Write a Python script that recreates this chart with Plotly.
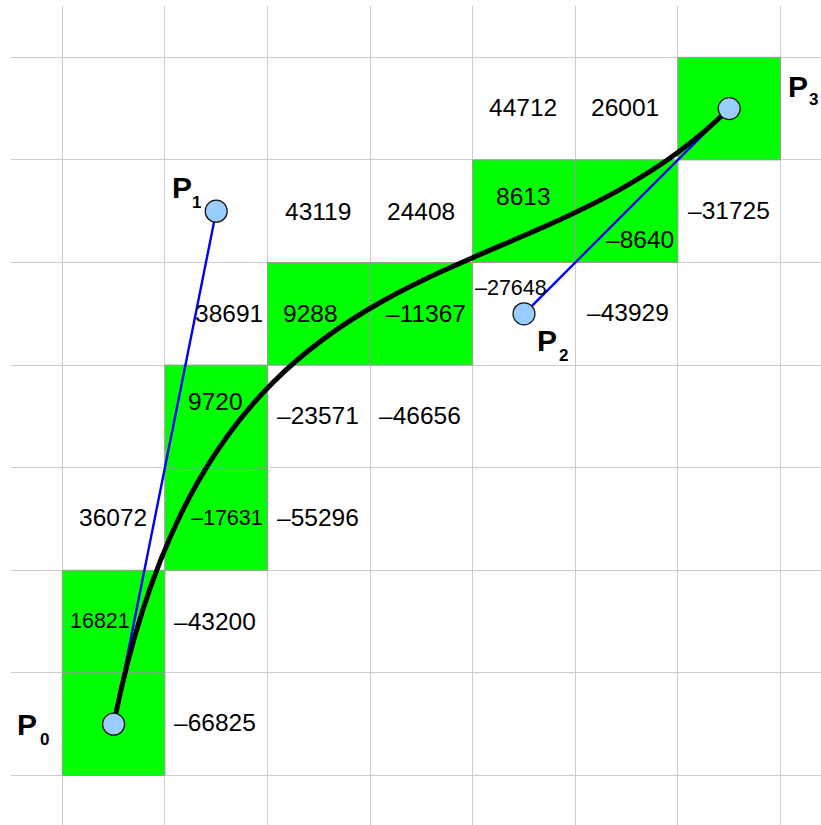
import plotly.graph_objects as go

# ---- data ----
# control points of the cubic Bezier curve (grid units)
point_names = ["0", "1", "2", "3"]
point_x = [0.5, 1.5, 4.5, 6.5]
point_y = [0.5, 5.5, 4.5, 6.5]

# shaded (green) cells: column, row
green_cols = [0, 0, 1, 1, 2, 3, 4, 5, 6]
green_rows = [0, 1, 2, 3, 4, 4, 5, 5, 6]

# cell values: column, row, value
value_cols = [0, 1, 1, 0, 1, 2, 1, 2, 3, 1, 2, 3, 4, 5, 2, 3, 4, 5, 6, 4, 5]
value_rows = [1, 1, 0, 2, 2, 2, 3, 3, 3, 4, 4, 4, 4, 4, 5, 5, 5, 5, 5, 6, 6]
values = [16821, -43200, -66825, 36072, -17631, -55296, 9720, -23571, -46656,
          38691, 9288, -11367, -27648, -43929, 43119, 24408, 8613, -8640,
          -31725, 44712, 26001]

# ---- styles (pixel nudges of labels inside their cells) ----
label_dx = [-13.5, -1, -1, -1, 10.4, -1, -1, -1, -1, 13, -8.7, 4.2, -13.4, 1.4,
            -0.7, -0.8, -0.9, 13, -0.6, -1.4, -1.5]
label_dy = [1, 1, 0, 0, 0, 0, -13, 0.5, 0.5, 1.4, 1.4, 1.4, -24.6, 0.4,
            1.7, 1.7, -13.3, 30, 1, 0.6, 0.6]
label_small = [True, False, False, False, True, False, False, False, False, False,
               False, False, True, False, False, False, False, False, False, False, False]
# P label offsets (px, down positive): main letter and subscript
p_dx = [-87, -34, 23.4, 68.7]
p_dy = [0, -24, 26.4, -22.4]
s_dx = [-69.3, -19.6, 39.3, 84.4]
s_dy = [15.3, -9, 42, -8.7]

FONT = "Liberation Sans, Arial, sans-serif"

fig = go.Figure()

shapes = []
for c, r in zip(green_cols, green_rows):
    shapes.append(dict(type="rect", xref="x", yref="y", x0=c, x1=c + 1, y0=r, y1=r + 1,
                       fillcolor="#00ff00", line=dict(color="#9a9a9a", width=1),
                       layer="between"))
# control polygon legs
shapes.append(dict(type="line", xref="x", yref="y", x0=point_x[0], y0=point_y[0],
                   x1=point_x[1], y1=point_y[1], line=dict(color="#0000ff", width=2.4),
                   layer="between"))
shapes.append(dict(type="line", xref="x", yref="y", x0=point_x[2], y0=point_y[2],
                   x1=point_x[3], y1=point_y[3], line=dict(color="#0000ff", width=2.4),
                   layer="between"))
# cubic Bezier curve
path = "M {},{} C {},{} {},{} {},{}".format(point_x[0], point_y[0], point_x[1], point_y[1],
                                             point_x[2], point_y[2], point_x[3], point_y[3])
shapes.append(dict(type="path", xref="x", yref="y", path=path,
                   line=dict(color="#000000", width=5), layer="between"))

fig.add_trace(go.Scatter(x=point_x, y=point_y, mode="markers",
                         marker=dict(size=22, color="#99ccff",
                                     line=dict(color="#111111", width=1.2)),
                         hoverinfo="skip", showlegend=False))

annotations = []
for c, r, v, dx, dy, sm in zip(value_cols, value_rows, values, label_dx, label_dy, label_small):
    txt = ("\u2013" + str(-v)) if v < 0 else str(v)
    annotations.append(dict(x=c + 0.5, y=r + 0.5, xref="x", yref="y", text=txt,
                            showarrow=False, xshift=dx, yshift=-(dy - 1.5),
                            font=dict(family=FONT, size=21.5 if sm else 24.5, color="#000000")))
for name, x, y, pdx, pdy, sdx, sdy in zip(point_names, point_x, point_y, p_dx, p_dy, s_dx, s_dy):
    annotations.append(dict(x=x, y=y, xref="x", yref="y", text="<b>P</b>", showarrow=False,
                            xshift=pdx, yshift=-pdy,
                            font=dict(family=FONT, size=30, color="#000000")))
    annotations.append(dict(x=x, y=y, xref="x", yref="y", text="<b>" + name + "</b>",
                            showarrow=False, xshift=sdx, yshift=-sdy,
                            font=dict(family=FONT, size=17, color="#000000")))

cell = 102.6
W, H = 821, 825
ml, mt = 11, 6
pw, ph = W - ml, H - mt
fig.update_layout(
    width=W, height=H, autosize=False,
    margin=dict(l=ml, r=0, t=mt, b=0, pad=0),
    paper_bgcolor="white", plot_bgcolor="white",
    shapes=shapes, annotations=annotations, showlegend=False,
    xaxis=dict(range=[-0.5, -0.5 + pw / cell], dtick=1, tick0=0, showgrid=True,
               gridcolor="#cccccc", gridwidth=1, zeroline=False, showticklabels=False,
               ticks="", showline=False, fixedrange=True),
    yaxis=dict(range=[7.5 - ph / cell, 7.5], dtick=1, tick0=0, showgrid=True,
               gridcolor="#cccccc", gridwidth=1, zeroline=False, showticklabels=False,
               ticks="", showline=False, fixedrange=True),
)

fig.write_html("out.html", config=dict(displayModeBar=False),
               post_script="document.body.style.margin='0';document.body.style.overflow='hidden';")
